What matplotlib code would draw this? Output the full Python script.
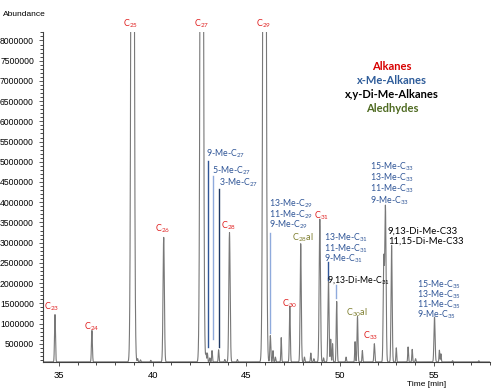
import numpy as np
import matplotlib.pyplot as plt
from matplotlib.ticker import MultipleLocator

# peak table: retention time [min], abundance, width (sigma, min)
peak_rt = [34.79, 36.76, 38.93, 39.20, 39.35, 39.90, 40.59, 42.62, 42.85, 42.92, 43.05,
           43.17, 43.52, 43.85, 44.10, 44.52, 45.97, 46.28, 46.42, 46.55, 46.86, 47.32,
           47.90, 48.10, 48.44, 48.60, 48.92, 49.12, 49.38, 49.50, 49.60, 49.82, 50.32,
           50.80, 50.93, 51.19, 51.83, 52.33, 52.42, 52.75, 53.00, 53.63, 53.85, 54.03,
           55.04, 55.30, 55.38, 56.00, 57.40]
peak_height = [1.17e6, 0.78e6, 35e6, 0.08e6, 0.05e6, 0.04e6, 3.08e6, 35e6, 0.20e6, 0.22e6, 0.10e6,
               0.28e6, 0.30e6, 0.06e6, 3.20e6, 0.06e6, 35e6, 0.65e6, 0.28e6, 0.12e6, 0.60e6, 1.38e6,
               2.93e6, 0.12e6, 0.22e6, 0.08e6, 3.53e6, 0.10e6, 2.07e6, 0.56e6, 0.45e6, 1.50e6, 0.12e6,
               0.50e6, 1.12e6, 0.28e6, 0.45e6, 2.50e6, 3.85e6, 2.89e6, 0.35e6, 0.37e6, 0.31e6, 0.08e6,
               1.11e6, 0.29e6, 0.20e6, 0.03e6, 0.03e6]
peak_sigma = [0.025, 0.025, 0.06, 0.02, 0.02, 0.02, 0.035, 0.06, 0.02, 0.02, 0.02,
              0.02, 0.02, 0.02, 0.035, 0.02, 0.06, 0.025, 0.02, 0.02, 0.02, 0.025,
              0.03, 0.02, 0.02, 0.02, 0.035, 0.02, 0.03, 0.02, 0.02, 0.025, 0.02,
              0.02, 0.025, 0.02, 0.025, 0.03, 0.035, 0.03, 0.02, 0.02, 0.02, 0.02,
              0.03, 0.02, 0.02, 0.02, 0.02]

t = np.linspace(34.15, 58.0, 6000)
trace = np.full_like(t, 0.05e6)
for rt, h, s in zip(peak_rt, peak_height, peak_sigma):
    trace += h * np.exp(-0.5 * ((t - rt) / s) ** 2)

RED = '#E02020'
BLUE = '#2F5597'
LBLUE = '#8FAADC'
NAVY = '#1F3864'
OLIVE = '#7F7F30'

plt.rcParams['font.family'] = ['Liberation Sans', 'DejaVu Sans']
fig = plt.figure(figsize=(5, 3.9), dpi=100)
ax = fig.add_axes([0.086, 0.072, 0.894, 0.845])

ax.plot(t, trace, color='#787878', lw=0.8)
ax.set_xlim(34.15, 58.0)
ax.set_ylim(0.05e6, 8.2e6)

for s in ['top', 'right']:
    ax.spines[s].set_visible(False)
ax.spines['left'].set_color('#404040')
ax.spines['bottom'].set_color('#404040')
ax.xaxis.set_major_locator(MultipleLocator(5))
ax.xaxis.set_minor_locator(MultipleLocator(1))
ax.yaxis.set_minor_locator(MultipleLocator(100000))
ax.set_yticks(np.arange(500000, 8000001, 500000))
ax.tick_params(axis='both', labelsize=6.2, colors='#404040', labelcolor='black', length=3, width=0.6)
ax.tick_params(axis='x', labelsize=6.8)
ax.tick_params(axis='both', which='minor', length=2, width=0.5)
ax.yaxis.set_major_formatter(plt.FuncFormatter(lambda v, p: '%d' % v))

fig.text(0.006, 0.962, 'Abundance', fontsize=6, va='center')
fig.text(0.854, 0.015, 'Time [min]', fontsize=6, ha='center', va='center')

LF = ['Lato', 'DejaVu Sans']


def sub(name, n):
    return name + r'$_{\mathregular{' + n + '}}$'


# alkane labels
alk = [(34.63, 1.41e6, '23'), (36.76, 0.92e6, '24'), (38.83, 8.42e6, '25'), (40.53, 3.35e6, '26'),
       (42.61, 8.42e6, '27'), (44.04, 3.42e6, '28'), (45.90, 8.42e6, '29'), (47.32, 1.48e6, '30'),
       (48.99, 3.67e6, '31'), (51.63, 0.70e6, '33')]
for x, y, n in alk:
    ax.text(x, y, sub('C', n), color=RED, fontsize=6.5, ha='center', va='center',
            family=LF, clip_on=False)

# aldehydes
ax.text(48.03, 3.13e6, sub('C', '28') + 'al', color=OLIVE, fontsize=6.5, ha='center', va='center', family=LF)
ax.text(50.90, 1.26e6, sub('C', '30') + 'al', color=OLIVE, fontsize=6.5, ha='center', va='center', family=LF)


# methyl alkanes
def me_group(x, ys, names, n):
    for y, nm in zip(ys, names):
        ax.text(x, y, sub(nm + '-Me-C', n), color=BLUE, fontsize=6.3, ha='left', va='center', family=LF)


ax.text(42.87, 5.19e6, sub('9-Me-C', '27'), color=BLUE, fontsize=6.3, va='center', family=LF)
ax.text(43.18, 4.78e6, sub('5-Me-C', '27'), color=BLUE, fontsize=6.3, va='center', family=LF)
ax.text(43.53, 4.49e6, sub('3-Me-C', '27'), color=BLUE, fontsize=6.3, va='center', family=LF)
me_group(46.22, [3.97e6, 3.70e6, 3.43e6], ['13', '11', '9'], '29')
me_group(49.15, [3.13e6, 2.86e6, 2.59e6], ['13', '11', '9'], '31')
me_group(51.60, [4.87e6, 4.61e6, 4.34e6, 4.04e6], ['15', '13', '11', '9'], '33')
me_group(54.10, [1.95e6, 1.70e6, 1.46e6, 1.21e6], ['15', '13', '11', '9'], '35')

ax.text(49.31, 2.07e6, sub('9,13-Di-Me-C', '31'), color='black', fontsize=6.3, va='center', family=LF)
ax.text(52.55, 3.28e6, '9,13-Di-Me-C33', color='black', fontsize=6.8, va='center', family=LF)
ax.text(52.55, 3.03e6, '11,15-Di-Me-C33', color='black', fontsize=6.8, va='center', family=LF)

# leader lines
leaders = [(42.93, 5.01e6, 0.43e6, BLUE), (43.20, 4.65e6, 0.62e6, LBLUE), (43.53, 4.33e6, 0.43e6, NAVY),
           (46.28, 3.23e6, 0.77e6, LBLUE), (49.38, 2.51e6, 2.07e6, BLUE), (49.80, 1.95e6, 1.63e6, LBLUE)]
for x, y0, y1, c in leaders:
    ax.plot([x, x], [y0, y1], color=c, lw=1.0)

# legend text block
leg = [('Alkanes', '#D80000'), ('x-Me-Alkanes', '#2E5C9A'), ('x,y-Di-Me-Alkanes', 'black'),
       ('Aledhydes', '#4F6B22')]
for i, (txt, c) in enumerate(leg):
    fig.text(0.784, 0.829 - i * 0.036, txt, color=c, fontsize=8.0, fontweight='bold',
             ha='center', va='center', family=LF)

plt.savefig('out.png', dpi=100)
